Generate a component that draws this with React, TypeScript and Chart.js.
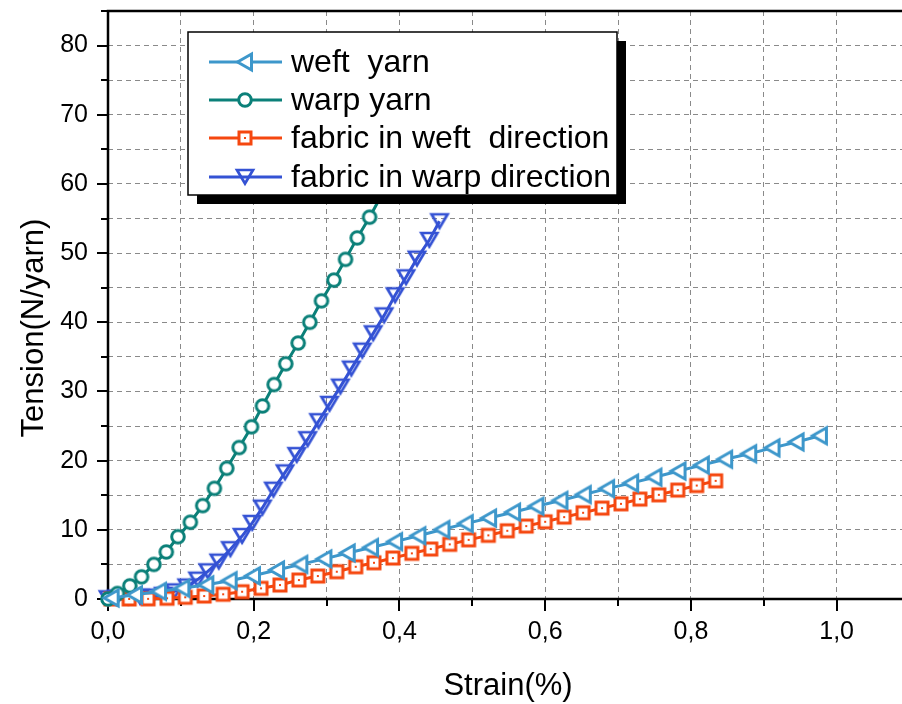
import React, { useEffect, useRef } from 'react';
import { Chart, registerables } from 'chart.js';

Chart.register(...registerables);

// ---- Data ----
const seriesNames = ['weft  yarn', 'warp yarn', 'fabric in weft  direction', 'fabric in warp direction'];

const weftYarnStrain = [0.005, 0.037, 0.070, 0.102, 0.135, 0.167, 0.199, 0.232, 0.264, 0.297, 0.329, 0.361, 0.394, 0.426, 0.459, 0.491, 0.523, 0.556, 0.588, 0.621, 0.653, 0.685, 0.718, 0.750, 0.783, 0.815, 0.847, 0.880, 0.912, 0.945, 0.977];
const weftYarnTension = [0.15, 0.6, 1.1, 1.55, 2.05, 2.65, 3.35, 4.2, 5.0, 5.8, 6.65, 7.45, 8.3, 9.15, 10.05, 10.9, 11.7, 12.55, 13.4, 14.25, 15.1, 15.95, 16.75, 17.6, 18.5, 19.35, 20.2, 21.0, 21.85, 22.7, 23.6];

const warpYarnStrain = [0.0, 0.013, 0.030, 0.046, 0.063, 0.080, 0.096, 0.113, 0.130, 0.146, 0.163, 0.180, 0.197, 0.212, 0.228, 0.244, 0.261, 0.277, 0.293, 0.310, 0.326, 0.342, 0.359, 0.375, 0.391];
const warpYarnTension = [0.0, 0.8, 1.9, 3.2, 5.0, 6.8, 9.0, 11.1, 13.5, 16.0, 18.9, 21.9, 24.9, 27.9, 31.0, 34.0, 37.0, 40.0, 43.1, 46.1, 49.1, 52.2, 55.2, 58.3, 61.4];

const fabricWeftStrain = [0.004, 0.029, 0.055, 0.081, 0.106, 0.132, 0.158, 0.184, 0.210, 0.236, 0.262, 0.288, 0.314, 0.340, 0.365, 0.391, 0.417, 0.443, 0.469, 0.495, 0.522, 0.548, 0.574, 0.600, 0.626, 0.652, 0.678, 0.704, 0.730, 0.756, 0.782, 0.808, 0.834];
const fabricWeftTension = [0.0, 0.0, 0.02, 0.1, 0.25, 0.43, 0.68, 1.05, 1.54, 2.02, 2.74, 3.32, 3.94, 4.66, 5.24, 5.92, 6.6, 7.22, 7.9, 8.55, 9.2, 9.86, 10.54, 11.16, 11.84, 12.46, 13.14, 13.76, 14.44, 15.06, 15.74, 16.4, 17.08];

const fabricWarpStrain = [0.0, 0.012, 0.028, 0.044, 0.060, 0.076, 0.091, 0.108, 0.123, 0.137, 0.152, 0.168, 0.184, 0.198, 0.212, 0.227, 0.243, 0.259, 0.274, 0.289, 0.304, 0.319, 0.334, 0.349, 0.364, 0.379, 0.394, 0.409, 0.424, 0.441, 0.455];
const fabricWarpTension = [0.1, 0.2, 0.25, 0.3, 0.35, 0.6, 1.1, 1.8, 2.8, 4.0, 5.4, 7.2, 9.1, 11.0, 13.2, 15.8, 18.3, 20.8, 23.1, 25.7, 28.2, 30.7, 33.3, 35.9, 38.4, 41.0, 43.9, 46.5, 49.2, 51.9, 54.6];

const seriesColors = ['#3d97cb', '#0b8079', '#f5470f', '#3452d4'];
const seriesMarkers = ['left', 'circle', 'square', 'down'];

const xAxisTitle = 'Strain(%)';
const yAxisTitle = 'Tension(N/yarn)';

const FONT = "'Liberation Sans', Arial, sans-serif";

function makeMarker(kind: string, color: string): HTMLCanvasElement {
  const c = document.createElement('canvas');
  c.width = 24;
  c.height = 24;
  const g = c.getContext('2d') as CanvasRenderingContext2D;
  g.strokeStyle = color;
  g.fillStyle = '#ffffff';
  g.lineWidth = 3;
  g.lineJoin = 'miter';
  g.beginPath();
  if (kind === 'left') {
    g.moveTo(4.5, 12);
    g.lineTo(18.5, 4);
    g.lineTo(18.5, 20);
    g.closePath();
    g.fill();
    g.stroke();
  } else if (kind === 'circle') {
    g.arc(12, 12, 6.3, 0, Math.PI * 2);
    g.fill();
    g.stroke();
  } else if (kind === 'square') {
    g.rect(6, 6, 12, 12);
    g.fill();
    g.stroke();
    g.fillStyle = color;
    g.fillRect(11, 11, 2, 2);
  } else {
    g.lineWidth = 2.7;
    g.moveTo(4, 5);
    g.lineTo(20, 5);
    g.lineTo(12, 18.5);
    g.closePath();
    g.stroke();
  }
  return c;
}

function pairs(xs: number[], ys: number[]) {
  return xs.map((x, i) => ({ x, y: ys[i] }));
}

export default function App() {
  const ref = useRef<HTMLCanvasElement | null>(null);

  useEffect(() => {
    const canvas = ref.current;
    if (!canvas) return;
    const markers = seriesMarkers.map((k, i) => makeMarker(k, seriesColors[i]));
    const dataSets = [
      pairs(weftYarnStrain, weftYarnTension),
      pairs(warpYarnStrain, warpYarnTension),
      pairs(fabricWeftStrain, fabricWeftTension),
      pairs(fabricWarpStrain, fabricWarpTension),
    ];

    const decor = {
      id: 'decor',
      beforeDatasetsDraw(chart: any) {
        const ctx = chart.ctx as CanvasRenderingContext2D;
        const a = chart.chartArea;
        const xs = chart.scales.x;
        const ys = chart.scales.y;
        ctx.save();
        ctx.strokeStyle = '#000';
        ctx.lineWidth = 2;
        xs.ticks.forEach((t: any) => {
          const px = Math.round(xs.getPixelForValue(t.value));
          if (px > a.right) return;
          const major = Math.round(t.value * 10) % 2 === 0;
          ctx.beginPath();
          ctx.moveTo(px, a.bottom);
          ctx.lineTo(px, a.bottom + (major ? 12 : 7));
          ctx.stroke();
        });
        ys.ticks.forEach((t: any) => {
          const py = Math.round(ys.getPixelForValue(t.value));
          const major = Math.round(t.value) % 10 === 0;
          ctx.beginPath();
          ctx.moveTo(a.left, py);
          ctx.lineTo(a.left - (major ? 11 : 7), py);
          ctx.stroke();
        });
        ctx.lineWidth = 2.5;
        ctx.beginPath();
        ctx.moveTo(a.left, a.bottom);
        ctx.lineTo(a.left, a.top);
        ctx.lineTo(a.right, a.top);
        ctx.moveTo(a.left, a.bottom);
        ctx.lineTo(a.right, a.bottom);
        ctx.stroke();
        ctx.restore();
      },
      afterDraw(chart: any) {
        const ctx = chart.ctx as CanvasRenderingContext2D;
        ctx.save();
        ctx.fillStyle = '#000';
        ctx.font = `31px ${FONT}`;
        ctx.textAlign = 'center';
        ctx.textBaseline = 'alphabetic';
        ctx.fillText(xAxisTitle, 508, 695);
        ctx.translate(43, 328);
        ctx.rotate(-Math.PI / 2);
        ctx.fillText(yAxisTitle, 0, 0);
        ctx.restore();

        ctx.save();
        const bx = 188, by = 32, bw = 429, bh = 163;
        ctx.fillStyle = '#000';
        ctx.fillRect(bx + 9, by + 9, bw, bh);
        ctx.fillStyle = '#fff';
        ctx.fillRect(bx, by, bw, bh);
        ctx.strokeStyle = '#000';
        ctx.lineWidth = 1.5;
        ctx.strokeRect(bx, by, bw, bh);
        const rows = [62, 100, 138, 177];
        ctx.font = `32px ${FONT}`;
        ctx.textAlign = 'left';
        ctx.textBaseline = 'middle';
        seriesNames.forEach((name, i) => {
          const y = rows[i];
          ctx.strokeStyle = seriesColors[i];
          ctx.lineWidth = 3;
          ctx.beginPath();
          ctx.moveTo(209, y);
          ctx.lineTo(282, y);
          ctx.stroke();
          const m = markers[i];
          ctx.drawImage(m, 245 - m.width / 2, y - m.height / 2);
          ctx.fillStyle = '#000';
          ctx.fillText(name, 291, y + 1);
        });
        ctx.restore();
      },
    };

    const fixPad = (s: any) => {
      s.paddingTop = 0;
      s.paddingBottom = 0;
      s.paddingLeft = 0;
      s.paddingRight = 0;
    };

    const chart = new Chart(canvas, {
      type: 'line',
      data: {
        datasets: dataSets.map((d, i) => ({
          label: seriesNames[i],
          data: d,
          borderColor: seriesColors[i],
          backgroundColor: seriesColors[i],
          borderWidth: 3,
          pointStyle: markers[i] as any,
          pointRadius: 7,
          pointHoverRadius: 7,
          tension: 0,
          fill: false,
          clip: false as any,
        })),
      },
      options: {
        animation: false,
        responsive: false,
        devicePixelRatio: 1,
        events: [],
        layout: { autoPadding: false, padding: { top: 11, right: 0, left: 0, bottom: 0 } },
        plugins: {
          legend: { display: false },
          tooltip: { enabled: false },
          title: { display: false },
        },
        scales: {
          x: {
            type: 'linear',
            min: 0,
            max: 1.0897,
            border: { display: false, dash: [5, 4] },
            grid: { color: '#8a8a8a', lineWidth: 1, drawTicks: false },
            ticks: {
              stepSize: 0.1,
              includeBounds: false,
              autoSkip: false,
              maxRotation: 0,
              padding: 18,
              color: '#000',
              font: { family: FONT, size: 25 },
              callback: (v: any) => {
                const n = Number(v);
                if (Math.round(n * 10) % 2 !== 0) return '';
                return n.toFixed(1).replace('.', ',');
              },
            },
            afterFit: (s: any) => {
              s.height = 105;
              fixPad(s);
            },
          },
          y: {
            type: 'linear',
            min: 0,
            max: 85,
            border: { display: false, dash: [5, 4] },
            grid: { color: '#8a8a8a', lineWidth: 1, drawTicks: false },
            ticks: {
              stepSize: 5,
              autoSkip: false,
              padding: 20,
              color: '#000',
              font: { family: FONT, size: 25 },
              callback: (v: any) => {
                const n = Number(v);
                return Math.round(n) % 10 === 0 ? String(Math.round(n)) : '';
              },
            },
            afterFit: (s: any) => {
              s.width = 108;
              fixPad(s);
            },
          },
        },
      },
      plugins: [decor],
    });
    return () => chart.destroy();
  }, []);

  return (
    <div style={{ position: 'absolute', left: 0, top: 0, width: 902, height: 704, background: '#fff' }}>
      <canvas ref={ref} width={902} height={704} style={{ display: 'block' }} />
    </div>
  );
}
